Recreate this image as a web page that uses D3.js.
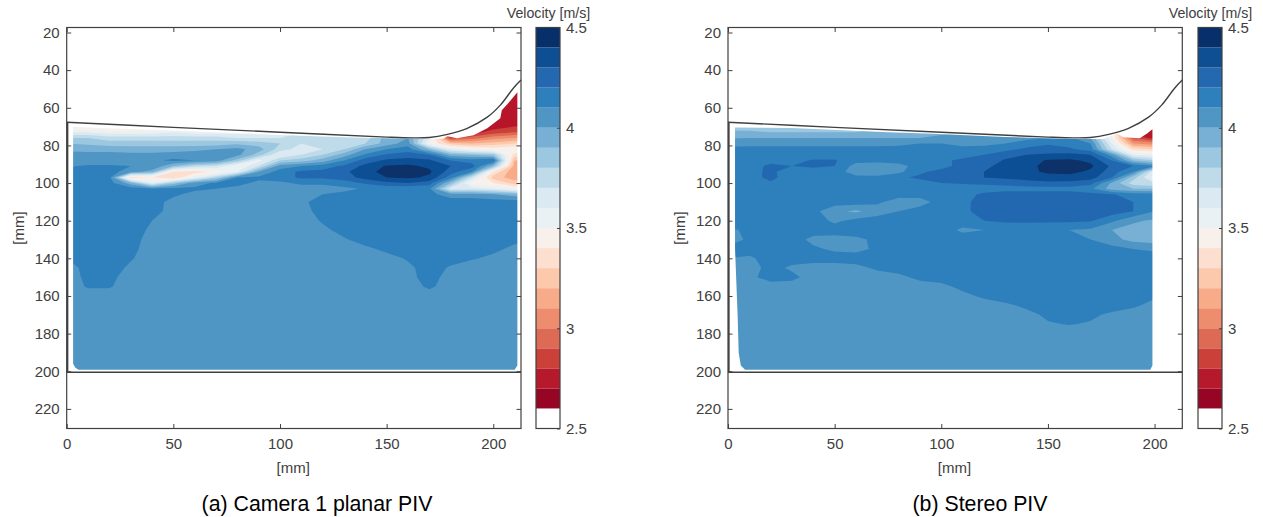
<!DOCTYPE html>
<html>

<head>
  <meta charset="utf8">
  <script src="https://d3js.org/d3.v7.min.js"></script>
  <style>
    body { margin: 0; background: #fff; }
    text { font-family: "Liberation Sans", Arial, sans-serif; }
    .axis text { fill: #404040; font-size: 15px; font-family: "Liberation Sans", Arial, sans-serif; }
    .axis line, .axis path { stroke: #404040; }
  </style>
</head>

<body>
  <svg id="chart" width="1263" height="517"></svg>

  <script>
    // colour bands, one per 0.1 m/s
    var levels = [2.5, 2.6, 2.7, 2.8, 2.9, 3.0, 3.1, 3.2, 3.3, 3.4, 3.5, 3.6, 3.7, 3.8, 3.9, 4.0, 4.1, 4.2, 4.3, 4.4];
    var colors = ['#ffffff', '#970525', '#b7192c', '#cb4038', '#dd6a54', '#ee8d6d', '#f7ab88', '#fcc9ad', '#fddfd0', '#f8f0ea',
      '#eaf1f5', '#dbe9f2', '#bfdbea', '#9cc7e0', '#77b0d4', '#4f96c5', '#2e80bd', '#2468b0', '#0e4f94', '#07306b'];

    var xTicks = [0, 50, 100, 150, 200];
    var yTicks = [20, 40, 60, 80, 100, 120, 140, 160, 180, 200, 220];
    var barTicks = [2.5, 3, 3.5, 4, 4.5];

    // wall profile in mm
    var wallX = [0, 50, 100, 150, 162, 170, 178.5, 187.8, 197.2, 203.3, 209.4, 213];
    var wallY = [67.7, 70.4, 73, 75.6, 76, 75.8, 74.1, 70.9, 65, 58.6, 49.6, 45.3];

    // measured area outline in mm
    var maskAX = [3, 30, 60, 100, 130, 160, 176.6, 178.5, 183, 190.7, 197.2, 203.3, 204, 207, 211.3, 211.3, 210, 5.5, 4, 3];
    var maskAY = [70.3, 71.3, 72.5, 74.5, 75.6, 76.4, 76.4, 75.1, 76.2, 74.6, 70.9, 65.6, 61.3, 57.6, 51.7, 197, 199.2, 199.2, 198, 196];
    var maskBX = [3.3, 30, 75, 96, 130, 160, 176, 182.4, 185.4, 193, 196.5, 199, 199, 198, 8, 6, 5, 4.5, 3.3];
    var maskBY = [70.5, 70.8, 73, 73.8, 75.5, 76.6, 76.6, 73.6, 75.7, 76.2, 73.6, 71.4, 197, 199.2, 199.2, 197, 190, 170, 135];

    // velocity samples in m/s
    var gridCols = [0, 10, 20, 30, 40, 50, 60, 70, 80, 90, 100, 110, 120, 130, 140, 150, 160, 170, 180, 190, 200, 210, 220];
    var rowsA = [50, 60, 66, 70, 73, 76, 79, 82, 85, 88, 91, 94, 97, 100, 103, 106, 110, 115, 120, 125, 130, 135, 140, 145, 150, 155, 160, 200];
    var speedA = [
      [3.4, 3.4, 3.4, 3.4, 3.4, 3.4, 3.4, 3.4, 3.5, 3.5, 3.6, 3.6, 3.6, 3.7, 3.7, 3.7, 3.7, 2.75, 2.75, 2.75, 2.75, 2.75, 2.75],
      [3.4, 3.4, 3.4, 3.4, 3.4, 3.4, 3.4, 3.4, 3.5, 3.5, 3.6, 3.6, 3.6, 3.7, 3.7, 3.7, 3.7, 2.75, 2.75, 2.75, 2.75, 2.75, 2.75],
      [3.35, 3.35, 3.35, 3.35, 3.35, 3.35, 3.35, 3.4, 3.45, 3.5, 3.6, 3.6, 3.6, 3.65, 3.7, 3.8, 3.9, 2.9, 2.75, 2.75, 2.75, 2.75, 2.75],
      [3.35, 3.35, 3.35, 3.35, 3.35, 3.35, 3.35, 3.4, 3.45, 3.5, 3.6, 3.6, 3.6, 3.65, 3.7, 3.8, 3.9, 3.3, 2.75, 2.75, 2.75, 2.8, 2.8],
      [3.6, 3.6, 3.55, 3.55, 3.55, 3.6, 3.55, 3.55, 3.55, 3.6, 3.65, 3.7, 3.7, 3.7, 3.72, 3.85, 3.95, 3.4, 2.75, 2.75, 2.85, 2.9, 2.9],
      [3.8, 3.8, 3.75, 3.75, 3.75, 3.75, 3.75, 3.75, 3.7, 3.7, 3.7, 3.72, 3.75, 3.7, 3.75, 3.95, 4.0, 3.6, 2.85, 2.95, 3.05, 3.1, 3.1],
      [3.9, 3.88, 3.85, 3.85, 3.85, 3.85, 3.85, 3.85, 3.88, 3.85, 3.8, 3.7, 3.7, 3.75, 3.8, 3.95, 4.05, 3.5, 3.25, 3.2, 3.25, 3.3, 3.3],
      [3.98, 3.97, 3.97, 3.95, 3.95, 3.95, 3.97, 4.0, 4.03, 3.95, 3.75, 3.65, 3.7, 3.8, 4.0, 4.1, 4.15, 3.9, 3.6, 3.5, 3.45, 3.5, 3.5],
      [4.03, 4.03, 4.03, 4.03, 4.03, 4.05, 4.07, 4.05, 4.03, 3.85, 3.6, 3.7, 3.8, 3.95, 4.12, 4.22, 4.25, 4.2, 3.95, 3.9, 3.85, 3.35, 3.35],
      [4.06, 4.06, 4.06, 4.07, 4.08, 4.12, 4.1, 4.05, 3.85, 3.55, 3.8, 3.85, 3.95, 4.1, 4.25, 4.32, 4.34, 4.32, 4.2, 4.15, 4.2, 3.2, 3.2],
      [4.09, 4.11, 4.11, 4.1, 4.1, 3.9, 3.75, 3.7, 3.5, 3.7, 4.05, 4.1, 4.15, 4.22, 4.33, 4.41, 4.42, 4.38, 4.3, 4.25, 3.9, 3.15, 3.15],
      [4.12, 4.14, 4.14, 4.05, 3.95, 3.4, 3.35, 3.42, 3.6, 4.0, 4.15, 4.22, 4.23, 4.28, 4.36, 4.44, 4.46, 4.42, 4.25, 4.1, 3.4, 3.1, 3.1],
      [4.14, 4.15, 4.14, 3.35, 3.4, 3.3, 3.55, 3.8, 4.1, 4.12, 4.15, 4.22, 4.22, 4.25, 4.34, 4.4, 4.42, 4.38, 4.15, 3.7, 3.25, 3.15, 3.15],
      [4.15, 4.15, 4.14, 3.95, 3.6, 3.85, 4.05, 4.12, 4.13, 4.08, 4.08, 4.12, 4.12, 4.15, 4.22, 4.28, 4.3, 4.25, 3.9, 3.45, 3.4, 3.25, 3.25],
      [4.15, 4.15, 4.15, 4.15, 4.12, 4.13, 4.12, 4.1, 4.07, 4.05, 4.05, 4.05, 4.05, 4.08, 4.11, 4.12, 4.12, 4.12, 3.65, 3.65, 3.6, 3.5, 3.5],
      [4.15, 4.15, 4.15, 4.15, 4.15, 4.12, 4.07, 4.05, 4.05, 4.04, 4.04, 4.05, 4.1, 4.12, 4.13, 4.13, 4.14, 4.13, 4.05, 4.05, 4.0, 3.95, 3.95],
      [4.15, 4.15, 4.15, 4.15, 4.14, 4.07, 4.05, 4.05, 4.05, 4.05, 4.05, 4.08, 4.14, 4.15, 4.15, 4.15, 4.15, 4.15, 4.15, 4.15, 4.15, 4.15, 4.15],
      [4.15, 4.15, 4.15, 4.15, 4.13, 4.07, 4.05, 4.05, 4.05, 4.05, 4.05, 4.07, 4.13, 4.15, 4.15, 4.15, 4.15, 4.15, 4.15, 4.15, 4.15, 4.15, 4.15],
      [4.15, 4.15, 4.15, 4.15, 4.1, 4.05, 4.05, 4.05, 4.05, 4.05, 4.05, 4.05, 4.11, 4.15, 4.15, 4.15, 4.15, 4.15, 4.15, 4.15, 4.15, 4.15, 4.15],
      [4.15, 4.15, 4.15, 4.15, 4.08, 4.05, 4.05, 4.05, 4.05, 4.05, 4.05, 4.05, 4.08, 4.13, 4.15, 4.15, 4.15, 4.15, 4.15, 4.15, 4.15, 4.14, 4.14],
      [4.14, 4.15, 4.15, 4.14, 4.06, 4.05, 4.05, 4.05, 4.05, 4.05, 4.05, 4.05, 4.05, 4.09, 4.14, 4.15, 4.15, 4.15, 4.15, 4.15, 4.15, 4.12, 4.12],
      [4.13, 4.15, 4.15, 4.13, 4.05, 4.05, 4.05, 4.05, 4.05, 4.05, 4.05, 4.05, 4.05, 4.05, 4.08, 4.12, 4.15, 4.15, 4.15, 4.15, 4.12, 4.08, 4.08],
      [4.1, 4.15, 4.15, 4.11, 4.05, 4.05, 4.05, 4.05, 4.05, 4.05, 4.05, 4.05, 4.05, 4.05, 4.05, 4.07, 4.11, 4.13, 4.13, 4.11, 4.08, 4.05, 4.05],
      [4.05, 4.14, 4.15, 4.08, 4.05, 4.05, 4.05, 4.05, 4.05, 4.05, 4.05, 4.05, 4.05, 4.05, 4.05, 4.05, 4.08, 4.14, 4.09, 4.05, 4.05, 4.05, 4.05],
      [4.06, 4.12, 4.13, 4.05, 4.05, 4.05, 4.05, 4.05, 4.05, 4.05, 4.05, 4.05, 4.05, 4.05, 4.05, 4.05, 4.07, 4.14, 4.06, 4.05, 4.05, 4.05, 4.05],
      [4.05, 4.11, 4.11, 4.05, 4.05, 4.05, 4.05, 4.05, 4.05, 4.05, 4.05, 4.05, 4.05, 4.05, 4.05, 4.05, 4.05, 4.12, 4.05, 4.05, 4.05, 4.05, 4.05],
      [4.05, 4.05, 4.05, 4.05, 4.05, 4.05, 4.05, 4.05, 4.05, 4.05, 4.05, 4.05, 4.05, 4.05, 4.05, 4.05, 4.05, 4.05, 4.05, 4.05, 4.05, 4.05, 4.05],
      [4.05, 4.05, 4.05, 4.05, 4.05, 4.05, 4.05, 4.05, 4.05, 4.05, 4.05, 4.05, 4.05, 4.05, 4.05, 4.05, 4.05, 4.05, 4.05, 4.05, 4.05, 4.05, 4.05]
    ];

    var rowsB = [50, 66, 70, 73, 76, 79, 82, 85, 88, 91, 94, 97, 100, 103, 106, 110, 115, 120, 125, 130, 135, 140, 145, 150, 155, 160, 165, 170, 175, 180, 200];
    var speedB = [
      [3.85, 3.85, 3.85, 3.85, 3.85, 3.85, 3.85, 3.85, 3.85, 3.85, 3.9, 3.9, 3.95, 3.95, 3.95, 3.95, 4.05, 4.1, 3.5, 2.75, 2.75, 2.75, 2.75],
      [3.85, 3.85, 3.85, 3.85, 3.85, 3.85, 3.85, 3.85, 3.85, 3.85, 3.9, 3.9, 3.95, 3.95, 3.95, 3.95, 4.05, 4.1, 3.5, 2.75, 2.75, 2.75, 2.75],
      [3.85, 3.85, 3.85, 3.85, 3.85, 3.85, 3.85, 3.85, 3.85, 3.85, 3.9, 3.9, 3.95, 3.95, 3.95, 3.95, 4.05, 4.1, 3.5, 2.75, 2.75, 2.75, 2.75],
      [3.92, 3.92, 3.9, 3.9, 3.9, 3.9, 3.9, 3.95, 3.95, 3.95, 3.97, 4.0, 4.05, 4.05, 4.05, 4.1, 4.12, 4.05, 3.55, 2.75, 2.7, 2.7, 2.7],
      [3.99, 4.0, 4.0, 4.0, 4.0, 4.0, 4.0, 4.0, 4.0, 4.0, 4.03, 4.03, 4.05, 4.05, 4.07, 4.1, 4.12, 4.0, 3.5, 2.9, 2.75, 2.75, 2.75],
      [4.07, 4.07, 4.07, 4.07, 4.07, 4.07, 4.07, 4.07, 4.08, 4.1, 4.1, 4.08, 4.08, 4.1, 4.15, 4.19, 4.15, 4.1, 3.6, 3.1, 3.05, 3.05, 3.05],
      [4.12, 4.13, 4.13, 4.13, 4.13, 4.13, 4.13, 4.13, 4.13, 4.13, 4.13, 4.12, 4.13, 4.17, 4.22, 4.24, 4.22, 4.15, 3.7, 3.35, 3.3, 3.3, 3.3],
      [4.15, 4.15, 4.15, 4.15, 4.15, 4.15, 4.15, 4.15, 4.15, 4.15, 4.15, 4.16, 4.2, 4.27, 4.3, 4.32, 4.33, 4.3, 4.05, 3.6, 3.55, 3.55, 3.55],
      [4.15, 4.16, 4.17, 4.17, 4.21, 4.21, 4.13, 4.13, 4.15, 4.16, 4.18, 4.22, 4.25, 4.31, 4.36, 4.41, 4.42, 4.38, 4.2, 3.9, 3.8, 3.8, 3.8],
      [4.15, 4.16, 4.22, 4.2, 4.22, 4.2, 4.06, 4.05, 4.06, 4.15, 4.18, 4.22, 4.28, 4.33, 4.37, 4.43, 4.46, 4.42, 4.28, 4.2, 4.1, 4.1, 4.1],
      [4.15, 4.17, 4.22, 4.15, 4.15, 4.14, 4.06, 4.05, 4.07, 4.19, 4.22, 4.25, 4.3, 4.33, 4.37, 4.42, 4.43, 4.38, 4.25, 4.1, 3.6, 3.6, 3.6],
      [4.15, 4.17, 4.22, 4.16, 4.15, 4.15, 4.12, 4.12, 4.19, 4.21, 4.22, 4.24, 4.3, 4.32, 4.34, 4.35, 4.36, 4.34, 4.2, 3.85, 3.55, 3.55, 3.55],
      [4.15, 4.15, 4.19, 4.15, 4.15, 4.15, 4.15, 4.15, 4.17, 4.18, 4.2, 4.21, 4.22, 4.23, 4.26, 4.28, 4.27, 4.24, 3.98, 3.75, 3.7, 3.7, 3.7],
      [4.15, 4.15, 4.15, 4.15, 4.15, 4.15, 4.15, 4.15, 4.15, 4.15, 4.15, 4.15, 4.15, 4.16, 4.16, 4.16, 4.16, 4.12, 3.95, 3.9, 3.9, 3.9, 3.9],
      [4.15, 4.15, 4.15, 4.15, 4.15, 4.15, 4.15, 4.15, 4.15, 4.15, 4.15, 4.16, 4.22, 4.25, 4.25, 4.25, 4.25, 4.23, 4.21, 4.15, 4.13, 4.13, 4.13],
      [4.15, 4.15, 4.15, 4.15, 4.15, 4.15, 4.15, 4.12, 4.05, 4.05, 4.15, 4.17, 4.25, 4.25, 4.25, 4.25, 4.25, 4.25, 4.24, 4.2, 4.13, 4.13, 4.13],
      [4.15, 4.15, 4.15, 4.15, 4.13, 4.03, 3.98, 4.05, 4.1, 4.15, 4.15, 4.17, 4.25, 4.25, 4.25, 4.25, 4.25, 4.25, 4.25, 4.2, 4.1, 4.1, 4.1],
      [4.15, 4.15, 4.15, 4.15, 4.15, 4.08, 4.13, 4.15, 4.15, 4.15, 4.15, 4.15, 4.2, 4.22, 4.22, 4.22, 4.22, 4.21, 4.12, 4.02, 3.98, 3.98, 3.98],
      [4.08, 4.12, 4.15, 4.15, 4.15, 4.15, 4.15, 4.15, 4.15, 4.15, 4.15, 4.08, 4.1, 4.12, 4.13, 4.12, 4.1, 4.08, 4.0, 3.95, 3.92, 3.92, 3.92],
      [4.05, 4.12, 4.15, 4.15, 4.07, 4.06, 4.08, 4.12, 4.15, 4.15, 4.15, 4.15, 4.15, 4.12, 4.12, 4.12, 4.12, 4.1, 4.03, 3.97, 3.95, 3.95, 3.95],
      [4.12, 4.15, 4.15, 4.15, 4.12, 4.08, 4.07, 4.12, 4.15, 4.15, 4.15, 4.15, 4.15, 4.15, 4.15, 4.15, 4.15, 4.15, 4.14, 4.1, 4.08, 4.08, 4.08],
      [4.1, 4.08, 4.15, 4.15, 4.15, 4.15, 4.15, 4.15, 4.15, 4.15, 4.15, 4.15, 4.15, 4.15, 4.15, 4.15, 4.15, 4.15, 4.15, 4.15, 4.15, 4.15, 4.15],
      [4.12, 4.05, 4.14, 4.08, 4.05, 4.05, 4.07, 4.12, 4.15, 4.15, 4.15, 4.15, 4.15, 4.15, 4.15, 4.15, 4.15, 4.15, 4.15, 4.15, 4.15, 4.15, 4.15],
      [4.1, 4.07, 4.15, 4.13, 4.05, 4.05, 4.05, 4.05, 4.07, 4.13, 4.15, 4.15, 4.15, 4.15, 4.15, 4.15, 4.15, 4.15, 4.15, 4.15, 4.15, 4.15, 4.15],
      [4.05, 4.05, 4.05, 4.05, 4.05, 4.05, 4.05, 4.05, 4.05, 4.05, 4.07, 4.13, 4.15, 4.15, 4.15, 4.15, 4.15, 4.15, 4.15, 4.15, 4.15, 4.15, 4.15],
      [4.05, 4.05, 4.05, 4.05, 4.05, 4.05, 4.05, 4.05, 4.05, 4.05, 4.05, 4.07, 4.12, 4.15, 4.15, 4.15, 4.15, 4.15, 4.15, 4.15, 4.12, 4.12, 4.12],
      [4.05, 4.05, 4.05, 4.05, 4.05, 4.05, 4.05, 4.05, 4.05, 4.05, 4.05, 4.05, 4.05, 4.08, 4.12, 4.15, 4.15, 4.15, 4.15, 4.12, 4.06, 4.06, 4.06],
      [4.05, 4.05, 4.05, 4.05, 4.05, 4.05, 4.05, 4.05, 4.05, 4.05, 4.05, 4.05, 4.05, 4.05, 4.07, 4.12, 4.13, 4.12, 4.08, 4.05, 4.05, 4.05, 4.05],
      [4.05, 4.05, 4.05, 4.05, 4.05, 4.05, 4.05, 4.05, 4.05, 4.05, 4.05, 4.05, 4.05, 4.05, 4.05, 4.09, 4.105, 4.09, 4.05, 4.05, 4.05, 4.05, 4.05],
      [4.05, 4.05, 4.05, 4.05, 4.05, 4.05, 4.05, 4.05, 4.05, 4.05, 4.05, 4.05, 4.05, 4.05, 4.05, 4.05, 4.05, 4.05, 4.05, 4.05, 4.05, 4.05, 4.05],
      [4.05, 4.05, 4.05, 4.05, 4.05, 4.05, 4.05, 4.05, 4.05, 4.05, 4.05, 4.05, 4.05, 4.05, 4.05, 4.05, 4.05, 4.05, 4.05, 4.05, 4.05, 4.05, 4.05]
    ];

    var chart = d3.select('#chart');
    var plotW = 454.3, plotTop = 27.5, plotBottom = 428.5;

    function drawField(g, id, x, y, rows, speed, maskX, maskY) {
      var toX = d3.scaleLinear().domain(gridCols.map((d, i) => i + 0.5)).range(gridCols).clamp(true);
      var toY = d3.scaleLinear().domain(rows.map((d, i) => i + 0.5)).range(rows).clamp(true);
      var path = d3.geoPath(d3.geoTransform({
        point: function (a, b) { this.stream.point(x(toX(a)), y(toY(b))); }
      }));
      var bands = d3.contours()
        .size([gridCols.length, rows.length])
        .thresholds(levels)(d3.merge(speed));

      g.append('clipPath').attr('id', id)
        .append('path')
        .attr('d', d3.line().x((d) => x(d)).y((d, i) => y(maskY[i]))(maskX) + 'Z');

      g.append('g')
        .attr('clip-path', 'url(#' + id + ')')
        .append('g')
        .attr('filter', 'url(#soft)')
        .selectAll('path')
        .data(bands)
        .enter()
        .append('path')
        .attr('d', path)
        .attr('fill', (d, i) => colors[i]);
    }

    function drawPanel(left, barLeft, id, rows, speed, maskX, maskY, caption, captionX) {
      var x = d3.scaleLinear().domain([0, 213]).range([left, left + plotW]);
      var y = d3.scaleLinear().domain([20, 220]).range([32.5, 408.9]);
      var g = chart.append('g');

      drawField(g, id, x, y, rows, speed, maskX, maskY);

      // wall outline
      var wall = d3.line().x((d) => x(d)).y((d, i) => y(wallY[i])).curve(d3.curveCatmullRom);
      g.append('path').attr('d', wall(wallX))
        .attr('fill', 'none').attr('stroke', '#404040').attr('stroke-width', 1.4);
      g.append('path')
        .attr('d', d3.line()([[x(0.4), y(67.7)], [x(0.4), y(200.5)], [x(213), y(200.5)]]))
        .attr('fill', 'none').attr('stroke', '#404040').attr('stroke-width', 1.6);

      // box and ticks on all four sides
      g.append('rect').attr('x', left).attr('y', plotTop).attr('width', plotW).attr('height', plotBottom - plotTop)
        .attr('fill', 'none').attr('stroke', '#404040').attr('stroke-width', 1.2);
      g.append('g').attr('class', 'axis').attr('transform', 'translate(0,' + plotBottom + ')')
        .call(d3.axisBottom(x).tickValues(xTicks).tickFormat(d3.format('d')).tickSizeInner(-4.5).tickSizeOuter(0).tickPadding(10));
      g.append('g').attr('class', 'axis').attr('transform', 'translate(0,' + plotTop + ')')
        .call(d3.axisTop(x).tickValues(xTicks).tickFormat('').tickSizeInner(-4.5).tickSizeOuter(0));
      g.append('g').attr('class', 'axis').attr('transform', 'translate(' + left + ',0)')
        .call(d3.axisLeft(y).tickValues(yTicks).tickSizeInner(-4.5).tickSizeOuter(0).tickPadding(7));
      g.append('g').attr('class', 'axis').attr('transform', 'translate(' + (left + plotW) + ',0)')
        .call(d3.axisRight(y).tickValues(yTicks).tickFormat('').tickSizeInner(-4.5).tickSizeOuter(0));
      g.selectAll('.axis .domain').remove();

      g.append('text').attr('x', left + 226.5).attr('y', 473).attr('text-anchor', 'middle')
        .attr('fill', '#404040').attr('font-size', 15).text('[mm]');
      g.append('text').attr('transform', 'translate(' + (left - 43) + ',228) rotate(-90)').attr('text-anchor', 'middle')
        .attr('fill', '#404040').attr('font-size', 15).text('[mm]');
      g.append('text').attr('x', captionX).attr('y', 511).attr('text-anchor', 'middle')
        .attr('fill', '#000').attr('font-size', 21.3).text(caption);

      // colour bar
      var v = d3.scaleLinear().domain([2.5, 4.5]).range([428.5, 27.5]);
      g.selectAll('.band').data(levels).enter().append('rect')
        .attr('class', 'band')
        .attr('x', barLeft).attr('width', 24)
        .attr('y', (d) => v(d + 0.1)).attr('height', (d) => v(d) - v(d + 0.1))
        .attr('fill', (d, i) => colors[i]);
      g.append('rect').attr('x', barLeft).attr('y', plotTop).attr('width', 24).attr('height', plotBottom - plotTop)
        .attr('fill', 'none').attr('stroke', '#404040').attr('stroke-width', 1.2);
      g.append('g').attr('class', 'axis').attr('transform', 'translate(' + (barLeft + 24) + ',0)')
        .call(d3.axisRight(v).tickValues(barTicks).tickFormat(d3.format('')).tickSizeInner(-3).tickSizeOuter(0).tickPadding(6))
        .select('.domain').remove();
      g.append('text').attr('x', barLeft + 12.5).attr('y', 18).attr('text-anchor', 'middle')
        .attr('fill', '#404040').attr('font-size', 14.2)
        .text('Velocity [m/s]');
    }

    var defs = chart.append('defs');
    defs.append('filter').attr('id', 'soft').append('feGaussianBlur').attr('stdDeviation', 0.45);

    drawPanel(66.7, 536, 'maskA', rowsA, speedA, maskAX, maskAY, '(a) Camera 1 planar PIV', 317);
    drawPanel(728, 1198, 'maskB', rowsB, speedB, maskBX, maskBY, '(b) Stereo PIV', 980);
  </script>
</body>

</html>
